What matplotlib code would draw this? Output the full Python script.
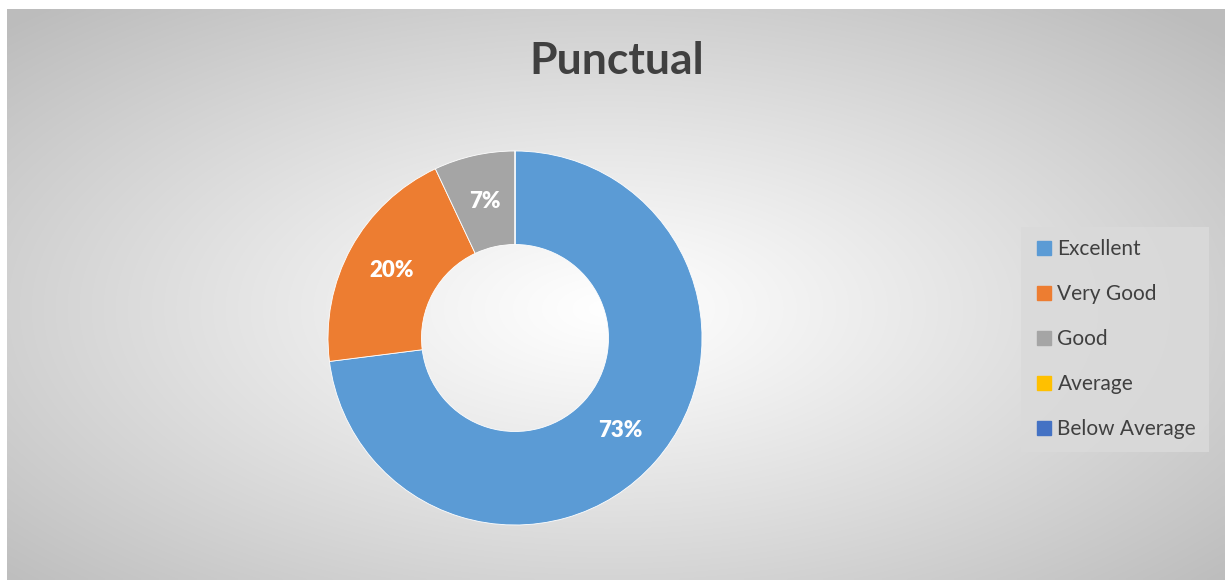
import numpy as np
import matplotlib.pyplot as plt
from matplotlib.lines import Line2D

categories = ["Excellent", "Very Good", "Good", "Average", "Below Average"]
shares = [73, 20, 7, 0, 0]
colors = ["#5b9bd5", "#ed7d31", "#a5a5a5", "#ffc000", "#4472c4"]
title = "Punctual"

W, H = 1225, 580
fig = plt.figure(figsize=(W / 100, H / 100), dpi=100)
fig.patch.set_facecolor("white")

# gradient background (chart area)
left, top = 7, 9
bg = fig.add_axes([left / W, 0, 1 - left / W, (H - top) / H])
bg.set_axis_off()
gx, gy = np.meshgrid(np.linspace(0, W - left, 400), np.linspace(0, H - top, 200))
cx, cy = 600, 300
r = np.sqrt(((gx - cx) / 620) ** 2 + ((gy - cy) / 300) ** 2)
val = 1 - 0.26 * np.clip(r / 1.35, 0, 1) ** 1.1
bg.imshow(np.dstack([val, val, val]), extent=[0, 1, 0, 1], aspect="auto",
          interpolation="bilinear")

# donut
cxp, cyp, rad = 515, 338, 187
ax = fig.add_axes([(cxp - rad) / W, (H - cyp - rad) / H, 2 * rad / W, 2 * rad / H])
ax.set_axis_off()
ax.patch.set_alpha(0)


def fmt(p):
    return f"{p:.0f}%" if p > 0.5 else ""


wedges, texts, autotexts = ax.pie(
    shares, colors=colors, startangle=90, counterclock=False, radius=1,
    wedgeprops=dict(width=0.5, edgecolor="white", linewidth=0.6),
    autopct=fmt, pctdistance=0.75,
    textprops=dict(color="white", fontsize=16, fontweight="heavy", family="Lato"))
ax.set_xlim(-1, 1)
ax.set_ylim(-1, 1)

fig.text(617 / W, 1 - 61 / H, title, ha="center", va="center", fontsize=32,
         fontweight="bold", color="#404040", family="Lato")

handles = [Line2D([], [], marker="s", linestyle="none", markersize=9.5,
                  markerfacecolor=c, markeredgecolor=c) for c in colors]
leg = fig.legend(handles, categories, loc="center left",
                 bbox_to_anchor=(1021 / W, 1 - 339 / H), frameon=True,
                 fancybox=False, handletextpad=0.15, labelspacing=1.2,
                 borderpad=0.6, handlelength=1.0, borderaxespad=0,
                 prop=dict(family="Lato", size=15))
leg.get_frame().set_facecolor("#dadada")
leg.get_frame().set_edgecolor("none")
leg.get_frame().set_alpha(0.85)
for t in leg.get_texts():
    t.set_color("#404040")

fig.savefig("out.png", dpi=100)
